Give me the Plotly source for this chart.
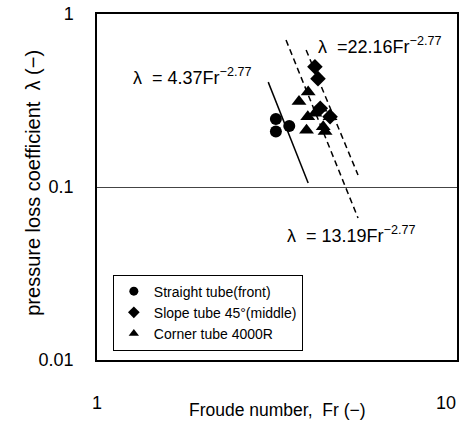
import math
import plotly.graph_objects as go

# Data (Froude number, pressure loss coefficient)
straight_fr = [3.14, 3.14, 3.42]
straight_lam = [0.247, 0.209, 0.225]

slope_fr = [4.03, 4.11, 4.17, 4.44]
slope_lam = [0.496, 0.423, 0.285, 0.255]

corner_fr = [3.86, 3.64, 4.17, 4.03, 3.85, 4.44, 3.82, 4.25, 4.30]
corner_lam = [0.354, 0.312, 0.285, 0.267, 0.255, 0.255, 0.213, 0.223, 0.209]

# Fit lines as drawn on the picture (end points)
fit1_fr = [2.99, 3.86]      # 4.37 Fr^-2.77 (solid)
fit1_lam = [0.404, 0.1055]
fit2_fr = [3.35, 5.31]      # 13.19 Fr^-2.77 (dashed)
fit2_lam = [0.707, 0.0662]
fit3_fr = [3.81, 5.31]      # 22.16 Fr^-2.77 (dashed)
fit3_lam = [0.619, 0.1173]

x_ticks = [1, 10]
x_ticktext = ["1", "10"]
y_ticks = [0.01, 0.1, 1]
y_ticktext = ["0.01", "0.1", "1"]

FONT = "Liberation Sans, Arial, sans-serif"

fig = go.Figure()

fig.add_trace(go.Scatter(x=fit1_fr, y=fit1_lam, mode="lines",
                         line=dict(color="black", width=1.5), showlegend=False))
fig.add_trace(go.Scatter(x=fit2_fr, y=fit2_lam, mode="lines",
                         line=dict(color="black", width=1.5, dash="6px,4px"), showlegend=False))
fig.add_trace(go.Scatter(x=fit3_fr, y=fit3_lam, mode="lines",
                         line=dict(color="black", width=1.5, dash="6px,4px"), showlegend=False))

fig.add_trace(go.Scatter(x=straight_fr, y=straight_lam, mode="markers",
                         showlegend=False,
                         marker=dict(symbol="circle", size=12, color="black")))
fig.add_trace(go.Scatter(x=slope_fr, y=slope_lam, mode="markers",
                         showlegend=False,
                         marker=dict(symbol="diamond", size=12, color="black")))
fig.add_trace(go.Scatter(x=corner_fr, y=corner_lam, mode="markers",
                         showlegend=False,
                         marker=dict(symbol="triangle-up", size=13, color="black")))

# legend entries (small symbols as in the reference)
fig.add_trace(go.Scatter(x=[None], y=[None], mode="markers", name="Straight tube(front)",
                         marker=dict(symbol="circle", size=9, color="black")))
fig.add_trace(go.Scatter(x=[None], y=[None], mode="markers", name="Slope tube 45°(middle)",
                         marker=dict(symbol="diamond", size=9, color="black")))
fig.add_trace(go.Scatter(x=[None], y=[None], mode="markers", name="Corner tube 4000R",
                         marker=dict(symbol="triangle-up", size=9, color="black")))

ann_font = dict(family=FONT, size=18, color="black")
fig.add_annotation(x=0.095, y=0.818, xref="paper", yref="paper",
                   text="λ  = 4.37Fr<sup>−2.77</sup>", showarrow=False,
                   xanchor="left", yanchor="middle", font=ann_font)
fig.add_annotation(x=0.607, y=0.91, xref="paper", yref="paper",
                   text="λ  =22.16Fr<sup>−2.77</sup>", showarrow=False,
                   xanchor="left", yanchor="middle", font=ann_font)
fig.add_annotation(x=0.522, y=0.362, xref="paper", yref="paper",
                   text="λ  = 13.19Fr<sup>−2.77</sup>", showarrow=False,
                   xanchor="left", yanchor="middle", font=ann_font)

# x tick labels (placed on the x scale, set well below the axis as in the reference)
x_shifts = [0, -11]
for v, t, s in zip(x_ticks, x_ticktext, x_shifts):
    fig.add_annotation(x=math.log10(v), y=0, xref="x", yref="paper",
                       text=t, showarrow=False, xanchor="center", yanchor="middle",
                       xshift=s, yshift=-43,
                       font=dict(family=FONT, size=18, color="black"))

# axis titles
fig.add_annotation(x=0.5, y=-0.145, xref="paper", yref="paper",
                   text="Froude number,  Fr (−)", showarrow=False,
                   xanchor="center", yanchor="middle",
                   font=dict(family=FONT, size=17.5, color="black"))
fig.add_annotation(x=-0.178, y=0.512, xref="paper", yref="paper",
                   text="pressure loss coefficient  λ (−)", showarrow=False,
                   textangle=-90, xanchor="center", yanchor="middle",
                   font=dict(family=FONT, size=20, color="black"))

fig.update_layout(
    width=469, height=425,
    margin=dict(l=97, r=12, t=14, b=65),
    paper_bgcolor="white", plot_bgcolor="white",
    font=dict(family=FONT, size=18, color="black"),
    showlegend=True,
    legend=dict(x=0.044, y=0.247, xanchor="left", yanchor="top",
                bgcolor="white", bordercolor="black", borderwidth=1,
                font=dict(family=FONT, size=14, color="black"),
                tracegroupgap=0, itemwidth=30),
)

fig.update_xaxes(type="log", range=[0, 1], tickvals=x_ticks, showticklabels=False,
                 showgrid=False, zeroline=False, ticks="", automargin=False,
                 showline=True, linecolor="black", linewidth=1.5, mirror=True)
fig.update_yaxes(type="log", range=[-2, 0], tickvals=y_ticks, ticktext=y_ticktext,
                 showgrid=True, gridcolor="#444444", gridwidth=1, zeroline=False, ticks="",
                 automargin=False, ticklabeloverflow="allow",
                 showline=True, linecolor="black", linewidth=1.5, mirror=True,
                 ticklabelstandoff=18)

fig.write_html("out.html")
